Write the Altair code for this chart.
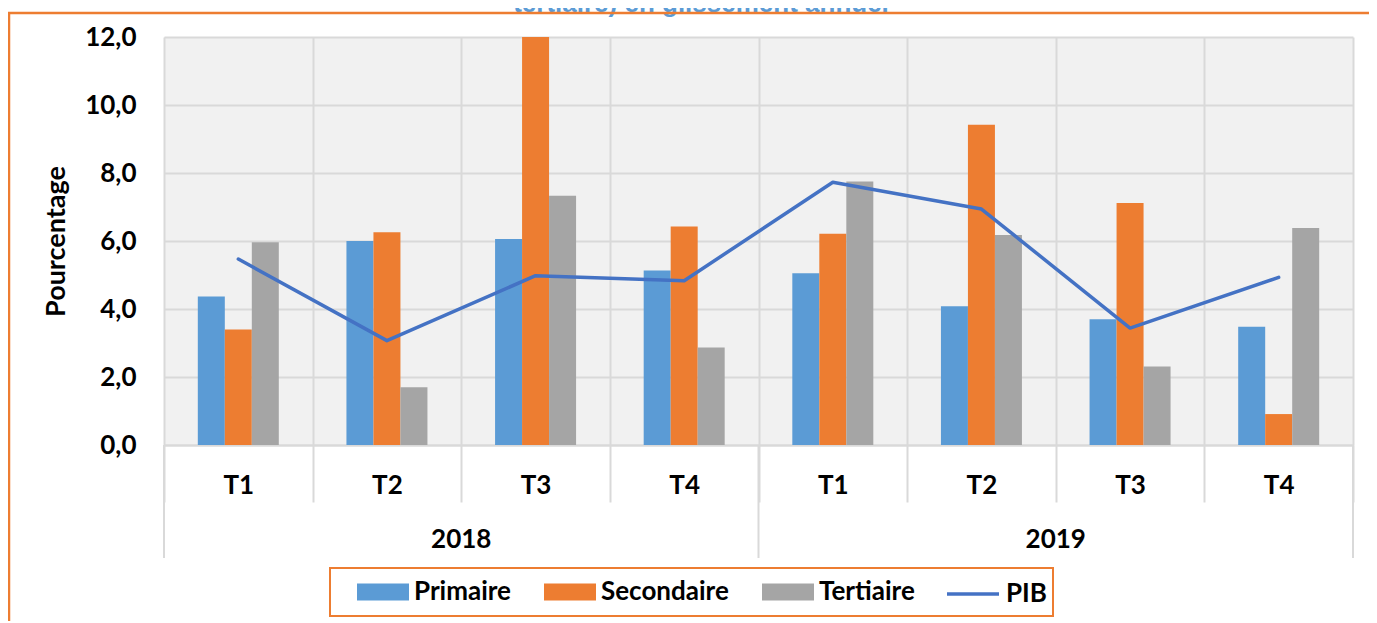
import altair as alt
import pandas as pd

# ---------------- data ----------------
years = ["2018", "2018", "2018", "2018", "2019", "2019", "2019", "2019"]
quarters = ["T1", "T2", "T3", "T4", "T1", "T2", "T3", "T4"]
primaire = [4.37, 6.00, 6.06, 5.13, 5.05, 4.08, 3.70, 3.48]
secondaire = [3.40, 6.26, 12.0, 6.43, 6.21, 9.42, 7.12, 0.91]
tertiaire = [5.96, 1.70, 7.33, 2.87, 7.75, 6.18, 2.31, 6.38]
pib = [5.47, 3.07, 4.98, 4.83, 7.73, 6.94, 3.44, 4.93]
sectors = ["Primaire", "Secondaire", "Tertiaire"]
line_name = "PIB"
year_list = ["2018", "2019"]
y_ticks = [0, 2, 4, 6, 8, 10, 12]
title_text = "tertiaire) en glissement annuel"
y_title = "Pourcentage"

# ---------------- styles ----------------
sector_colors = ["#5B9BD5", "#ED7D31", "#A5A5A5"]
line_color = "#4472C4"
frame_color = "#ED7D31"
grid_color = "#D9D9D9"
FONT = "Lato"
FS = 26
W, H = 1189, 408
BAND = W / 8
BAR_W = 27
OFF0 = (BAND - 3 * BAR_W) / 2

keys = [f"{y} {q}" for y, q in zip(years, quarters)]

bars_df = pd.DataFrame(
    [
        {"k": k, "sector": s, "v": v}
        for k, p, se, t in zip(keys, primaire, secondaire, tertiaire)
        for s, v in zip(sectors, [p, se, t])
    ]
)
line_df = pd.DataFrame({"k": keys, "v": pib, "serie": [line_name] * len(keys)})
year_df = pd.DataFrame(
    {"year": year_list, "start": [f"{y} T1" for y in year_list], "mid": [f"{y} T3" for y in year_list]}
)
one = pd.DataFrame({"a": [0]})

x_axis = alt.Axis(
    title=None,
    labelExpr="split(datum.label, ' ')[1]",
    labelAngle=0,
    labelFont=FONT,
    labelFontSize=FS,
    labelFontWeight="bold",
    labelColor="black",
    labelPadding=-17,
    labelBaseline="middle",
    tickBand="extent",
    tickSize=57,
    tickColor=grid_color,
    tickWidth=2,
    domainColor=grid_color,
    domainWidth=2,
    grid=True,
    gridColor=grid_color,
    gridWidth=2,
)
x_scale = alt.Scale(domain=keys, paddingInner=0, paddingOuter=0)

y_enc = alt.Y(
    "v:Q",
    scale=alt.Scale(domain=[0, 12], nice=False),
    axis=alt.Axis(
        title=y_title,
        values=y_ticks,
        labelExpr="replace(format(datum.value, '.1f'), '.', ',')",
        labelFont=FONT,
        labelFontSize=FS,
        labelFontWeight="bold",
        labelColor="black",
        labelPadding=28,
        ticks=False,
        domain=False,
        gridColor=grid_color,
        gridWidth=2,
        titleFont=FONT,
        titleFontSize=27,
        titleFontWeight="bold",
        titleColor="black",
        titleX=-94,
        titleY=H / 2,
        titleAngle=270,
        titleAlign="center",
        titleBaseline="bottom",
    ),
)

bars = (
    alt.Chart(bars_df)
    .mark_bar()
    .encode(
        x=alt.X("k:N", sort=keys, scale=x_scale, axis=x_axis),
        xOffset=alt.XOffset(
            "sector:N", sort=sectors,
            scale=alt.Scale(domain=sectors, paddingInner=0, paddingOuter=0,
                            range=[OFF0, OFF0 + 3 * BAR_W]),
        ),
        y=y_enc,
        color=alt.Color(
            "sector:N",
            sort=sectors,
            scale=alt.Scale(domain=sectors, range=sector_colors),
            legend=alt.Legend(
                title=None,
                orient="none",
                legendX=193,
                legendY=529,
                direction="horizontal",
                symbolType="M-1,-0.33H1V0.33H-1Z",
                symbolSize=2704,
                symbolStrokeWidth=0,
                symbolOpacity=1,
                labelFont=FONT,
                labelFontSize=FS,
                labelFontWeight="bold",
                labelColor="black",
                labelOffset=5,
                columnPadding=33,
                padding=0,
            ),
        ),
    )
)

line = (
    alt.Chart(line_df)
    .mark_line(strokeWidth=3.5, strokeJoin="round", strokeCap="round")
    .encode(
        x=alt.X("k:N", sort=keys, scale=x_scale, axis=x_axis),
        y=y_enc,
        stroke=alt.Stroke(
            "serie:N",
            scale=alt.Scale(domain=[line_name], range=[line_color]),
            legend=alt.Legend(
                title=None,
                orient="none",
                legendX=781,
                legendY=529,
                direction="horizontal",
                symbolType="stroke",
                symbolSize=2704,
                symbolStrokeWidth=3.5,
                labelFont=FONT,
                labelFontSize=FS,
                labelFontWeight="bold",
                labelColor="black",
                labelOffset=5,
                padding=0,
            ),
        ),
    )
)

year_rules = (
    alt.Chart(year_df)
    .mark_rule(color=grid_color, strokeWidth=2)
    .encode(
        x=alt.X("start:N", scale=x_scale, bandPosition=0, axis=x_axis),
        y=alt.value(H),
        y2=alt.value(H + 113),
    )
)
right_rule = (
    alt.Chart(one)
    .mark_rule(color=grid_color, strokeWidth=2)
    .encode(x=alt.value(W), y=alt.value(H), y2=alt.value(H + 113))
)
year_text = (
    alt.Chart(year_df)
    .mark_text(font=FONT, fontSize=FS, fontWeight="bold", color="black", baseline="middle")
    .encode(
        x=alt.X("mid:N", scale=x_scale, bandPosition=0, axis=x_axis),
        y=alt.value(H + 95),
        text="year:N",
    )
)

title = (
    alt.Chart(one)
    .mark_text(
        text=title_text, font="Liberation Sans", fontSize=26, fontWeight="bold",
        color="#5B9BD5", baseline="alphabetic", align="center",
    )
    .encode(x=alt.value(537), y=alt.value(-25))
)
frame_top = (
    alt.Chart(one)
    .mark_rule(color=frame_color, strokeWidth=2.5)
    .encode(x=alt.value(-156), x2=alt.value(1225), y=alt.value(-24))
)
frame_left = (
    alt.Chart(one)
    .mark_rule(color=frame_color, strokeWidth=2.5)
    .encode(x=alt.value(-155), y=alt.value(-24), y2=alt.value(600))
)
legend_box = (
    alt.Chart(one)
    .mark_rect(fill="white", fillOpacity=0, stroke=frame_color, strokeWidth=2)
    .encode(x=alt.value(166), x2=alt.value(889), y=alt.value(531), y2=alt.value(579))
)

chart = (
    alt.layer(bars, line, year_rules, right_rule, year_text, title, frame_top, frame_left, legend_box)
    .properties(
        width=W,
        height=H,
        autosize=alt.AutoSizeParams(type="none"),
        padding={"left": 156, "top": 29, "right": 16, "bottom": 176},
        background="white",
    )
    .configure_view(fill="#F1F1F1", strokeWidth=0)
)

chart.save("out.html", embed_options={"renderer": "svg", "actions": False})
